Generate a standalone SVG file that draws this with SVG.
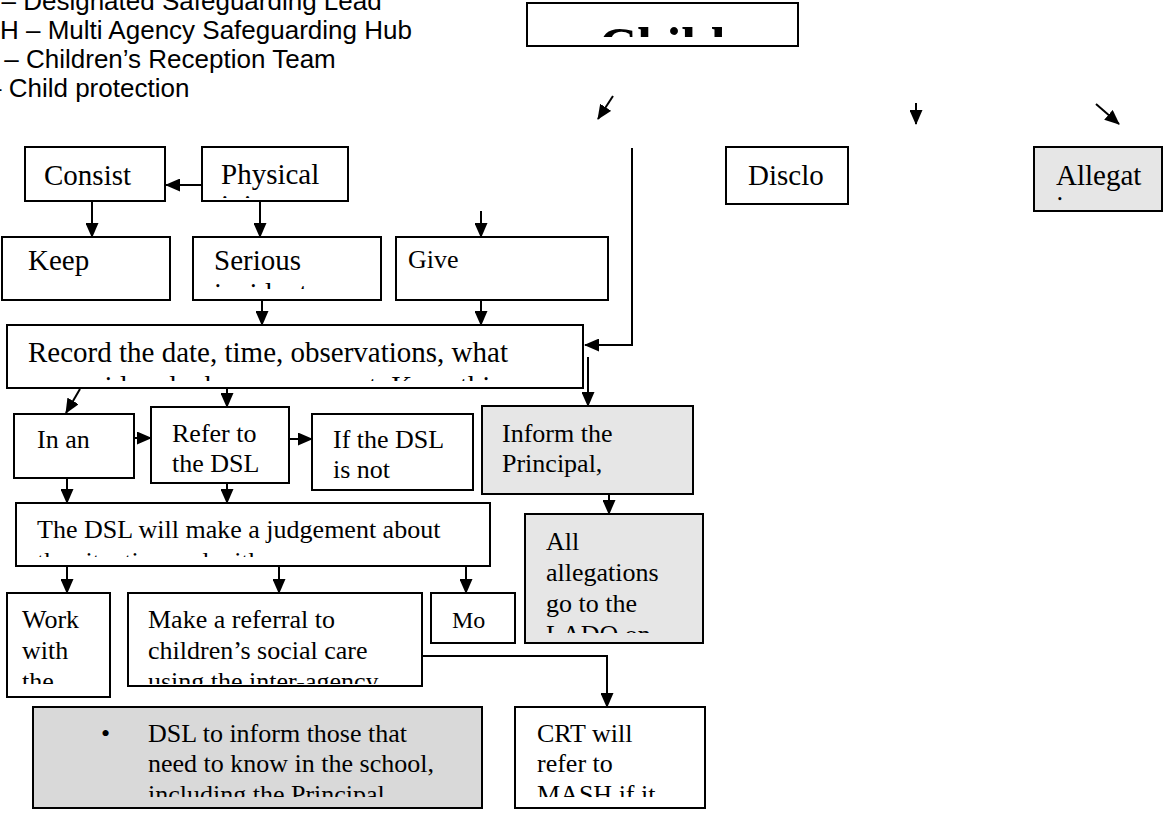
<svg xmlns="http://www.w3.org/2000/svg" width="1168" height="815" viewBox="0 0 1168 815">
<style>
.box{fill:#fff;stroke:#000;stroke-width:2}
.gray{fill:#e6e6e6}
.dark{fill:#d9d9d9}
.t{font-family:"Liberation Serif","Times New Roman",serif;font-size:26px;fill:#000}
.big{font-size:29px}
.sm{font-size:24px}
.huge{font-size:53px;font-weight:bold}
.leg{font-family:"Liberation Sans",Arial,sans-serif;font-size:26px;fill:#000}
.c{fill:none;stroke:#000;stroke-width:2}
</style>
<defs>
<marker id="ah" markerUnits="userSpaceOnUse" markerWidth="15" markerHeight="13" refX="14" refY="6.5" orient="auto" viewBox="0 0 15 13"><path d="M0,0 L15,6.5 L0,13 z" fill="#000"/></marker>
<clipPath id="cChild"><rect x="529" y="5" width="267" height="32"/></clipPath>
<clipPath id="cPhys"><rect x="204" y="149" width="142" height="49"/></clipPath>
<clipPath id="cSer"><rect x="195" y="239" width="184" height="50"/></clipPath>
<clipPath id="cAlg"><rect x="1036" y="149" width="124" height="53"/></clipPath>
<clipPath id="cRec"><rect x="9" y="327" width="572" height="54"/></clipPath>
<clipPath id="cJud"><rect x="18" y="505" width="470" height="52"/></clipPath>
<clipPath id="cWork"><rect x="9" y="595" width="99" height="89"/></clipPath>
<clipPath id="cMake"><rect x="130" y="595" width="290" height="89"/></clipPath>
<clipPath id="cLado"><rect x="527" y="516" width="174" height="117"/></clipPath>
<clipPath id="cCRT"><rect x="517" y="709" width="186" height="88"/></clipPath>
<clipPath id="cDsli"><rect x="34" y="709" width="446" height="88"/></clipPath>
</defs>

<g id="legend" class="leg">
<text x="1.5" y="10">– Designated Safeguarding Lead</text>
<text x="0" y="39">H – Multi Agency Safeguarding Hub</text>
<text x="4.3" y="68">– Children’s Reception Team</text>
<text x="-13" y="97">– Child protection</text>
</g>

<g id="connectors">
<line class="c" x1="613" y1="96" x2="598" y2="119" marker-end="url(#ah)"/>
<line class="c" x1="916" y1="103" x2="916" y2="124" marker-end="url(#ah)"/>
<line class="c" x1="1096" y1="104" x2="1119" y2="124" marker-end="url(#ah)"/>
<polyline class="c" points="632,148 632,345 585,345" marker-end="url(#ah)"/>
<line class="c" x1="202" y1="185" x2="166" y2="185" marker-end="url(#ah)"/>
<line class="c" x1="92" y1="201" x2="92" y2="237" marker-end="url(#ah)"/>
<line class="c" x1="260" y1="201" x2="260" y2="237" marker-end="url(#ah)"/>
<line class="c" x1="481" y1="211" x2="481" y2="237" marker-end="url(#ah)"/>
<line class="c" x1="262" y1="300" x2="262" y2="325" marker-end="url(#ah)"/>
<line class="c" x1="481" y1="300" x2="481" y2="325" marker-end="url(#ah)"/>
<line class="c" x1="80" y1="389" x2="66" y2="413" marker-end="url(#ah)"/>
<line class="c" x1="227" y1="389" x2="227" y2="407" marker-end="url(#ah)"/>
<line class="c" x1="588" y1="357" x2="588" y2="406" marker-end="url(#ah)"/>
<line class="c" x1="134" y1="438" x2="151" y2="438" marker-end="url(#ah)"/>
<line class="c" x1="289" y1="439" x2="312" y2="439" marker-end="url(#ah)"/>
<line class="c" x1="67" y1="478" x2="67" y2="503" marker-end="url(#ah)"/>
<line class="c" x1="227" y1="483" x2="227" y2="503" marker-end="url(#ah)"/>
<line class="c" x1="609" y1="494" x2="609" y2="514" marker-end="url(#ah)"/>
<line class="c" x1="67" y1="566" x2="67" y2="593" marker-end="url(#ah)"/>
<line class="c" x1="279" y1="566" x2="279" y2="593" marker-end="url(#ah)"/>
<line class="c" x1="466" y1="566" x2="466" y2="593" marker-end="url(#ah)"/>
<polyline class="c" points="422,656 607,656 607,707" marker-end="url(#ah)"/>
</g>

<g id="child">
<rect class="box" x="527" y="3" width="271" height="43"/>
<text class="t huge" x="662" y="64" text-anchor="middle" clip-path="url(#cChild)">Child</text>
</g>

<g id="consist">
<rect class="box" x="25" y="147" width="140" height="54"/>
<text class="t big" x="44" y="185">Consist</text>
</g>
<g id="physical">
<rect class="box" x="202" y="147" width="146" height="54"/>
<g clip-path="url(#cPhys)"><text class="t big" x="221" y="184">Physical</text><text class="t big" x="221" y="215">injury</text></g>
</g>
<g id="disclo">
<rect class="box" x="726" y="147" width="122" height="57"/>
<text class="t big" x="748" y="185">Disclo</text>
</g>
<g id="allegat">
<rect class="box gray" x="1034" y="147" width="128" height="64"/>
<g clip-path="url(#cAlg)"><text class="t big" x="1056" y="185">Allegat</text><text class="t big" x="1056" y="216">ion</text></g>
</g>

<g id="keep">
<rect class="box" x="2" y="237" width="168" height="63"/>
<text class="t big" x="28" y="270">Keep</text>
</g>
<g id="serious">
<rect class="box" x="193" y="237" width="188" height="63"/>
<g clip-path="url(#cSer)"><text class="t big" x="214" y="270">Serious</text><text class="t big" x="214" y="303">incident</text></g>
</g>
<g id="give">
<rect class="box" x="396" y="237" width="212" height="63"/>
<text class="t" x="408" y="268">Give</text>
</g>

<g id="record">
<rect class="box" x="7" y="325" width="576" height="63"/>
<g clip-path="url(#cRec)"><text class="t big" x="28" y="362">Record the date, time, observations, what</text><text class="t big" x="28" y="396">was said and who was present. Keep this</text></g>
</g>

<g id="inan">
<rect class="box" x="14" y="414" width="120" height="64"/>
<text class="t" x="37" y="448">In an</text>
</g>
<g id="refer">
<rect class="box" x="151" y="407" width="138" height="76"/>
<text class="t" x="172" y="442">Refer to</text>
<text class="t" x="172" y="472">the DSL</text>
</g>
<g id="ifdsl">
<rect class="box" x="312" y="414" width="161" height="76"/>
<text class="t" x="333" y="448">If the DSL</text>
<text class="t" x="333" y="478">is not</text>
</g>
<g id="inform">
<rect class="box gray" x="482" y="406" width="211" height="88"/>
<text class="t" x="502" y="442">Inform the</text>
<text class="t" x="502" y="472">Principal,</text>
</g>

<g id="judgement">
<rect class="box" x="16" y="503" width="474" height="63"/>
<g clip-path="url(#cJud)"><text class="t" x="37" y="538">The DSL will make a judgement about</text><text class="t" x="37" y="570">the situation and with</text></g>
</g>
<g id="allegations">
<rect class="box gray" x="525" y="514" width="178" height="129"/>
<g clip-path="url(#cLado)"><text class="t" x="546" y="550">All</text><text class="t" x="546" y="581">allegations</text><text class="t" x="546" y="612">go to the</text><text class="t" x="546" y="643">LADO on</text></g>
</g>

<g id="work">
<rect class="box" x="7" y="593" width="103" height="104"/>
<g clip-path="url(#cWork)"><text class="t" x="22" y="628">Work</text><text class="t" x="22" y="659">with</text><text class="t" x="22" y="690">the</text></g>
</g>
<g id="referral">
<rect class="box" x="128" y="593" width="294" height="93"/>
<g clip-path="url(#cMake)"><text class="t" x="148" y="628">Make a referral to</text><text class="t" x="148" y="659">children’s social care</text><text class="t" x="148" y="690">using the inter-agency</text></g>
</g>
<g id="mo">
<rect class="box" x="431" y="593" width="84" height="50"/>
<text class="t sm" x="452" y="628">Mo</text>
</g>

<g id="dslinform">
<rect class="box dark" x="33" y="707" width="449" height="101"/>
<g clip-path="url(#cDsli)"><text class="t" x="101" y="742">•</text><text class="t" x="148" y="742">DSL to inform those that</text><text class="t" x="148" y="772">need to know in the school,</text><text class="t" x="148" y="803">including the Principal</text></g>
</g>
<g id="crt">
<rect class="box" x="515" y="707" width="190" height="101"/>
<g clip-path="url(#cCRT)"><text class="t" x="537" y="742">CRT will</text><text class="t" x="537" y="772">refer to</text><text class="t" x="537" y="803">MASH if it</text></g>
</g>
</svg>
